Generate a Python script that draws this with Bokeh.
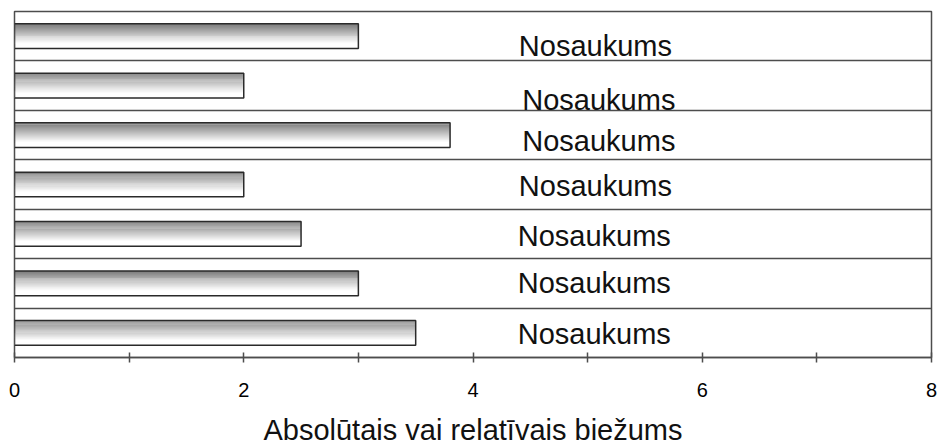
from bokeh.plotting import figure
from bokeh.models import Range1d, FixedTicker, ColumnDataSource
from bokeh.core.properties import value
from bokeh.embed import file_html
from bokeh.resources import INLINE

# ---- data ----
rows = [1, 2, 3, 4, 5, 6, 7]
values = [3.0, 2.0, 3.8, 2.0, 2.5, 3.0, 3.5]
names = ["Nosaukums"] * 7
x_ticks = [0, 2, 4, 6, 8]
x_minor_ticks = [1, 3, 5, 7]
axis_title = "Absolūtais vai relatīvais biežums"

# ---- layout of the name labels (styling) ----
label_x = [4.40, 4.43, 4.43, 4.40, 4.39, 4.39, 4.39]
label_dy = [0.19, 0.30, 0.11, 0.04, 0.05, 0.00, 0.02]

FONT = "Liberation Sans"
DARK = "#4d4d4d"

p = figure(width=940, height=448, output_backend="svg", toolbar_location=None,
           x_range=Range1d(0, 8), y_range=Range1d(7.5, 0.5),
           min_border_left=14, min_border_right=9, min_border_top=11,
           min_border_bottom=91)

p.background_fill_color = "white"
p.border_fill_color = "white"
p.outline_line_color = DARK
p.outline_line_width = 1.5

# gradient bars made of thin slices (dark at top, fading to white)
bar_h = 0.5
N = 24
for k in range(N):
    t = (k + 0.5) / N
    g = int(round(120 + (255 - 120) * min(1.0, t / 0.8)))
    col = "#%02x%02x%02x" % (g, g, g)
    ys = [r - bar_h / 2 + (k + 0.5) * bar_h / N for r in rows]
    p.hbar(y=ys, left=0, right=values, height=bar_h / N * 1.15,
           fill_color=col, line_color=None)

p.hbar(y=rows, left=0, right=values, height=bar_h, fill_color=None,
       line_color="#2a2a2a", line_width=1.5)

# labels
src = ColumnDataSource(dict(x=label_x, y=[r + d for r, d in zip(rows, label_dy)], t=names))
p.text(x="x", y="y", text="t", source=src, text_font=value(FONT),
       text_font_size="29px", text_color="#111111", text_baseline="alphabetic",
       text_align="left")

# grids
p.xgrid.visible = False
p.ygrid.ticker = FixedTicker(ticks=[1.5, 2.5, 3.5, 4.5, 5.5, 6.5])
p.ygrid.grid_line_color = DARK
p.ygrid.grid_line_width = 1.6

# axes
p.yaxis.visible = False
ax = p.xaxis[0]
ax.ticker = FixedTicker(ticks=x_ticks, minor_ticks=x_minor_ticks)
ax.axis_line_color = DARK
ax.axis_line_width = 1.6
ax.major_tick_line_color = DARK
ax.minor_tick_line_color = DARK
ax.major_tick_line_width = 1.5
ax.minor_tick_line_width = 1.5
ax.major_tick_in = 5
ax.major_tick_out = 5
ax.minor_tick_in = 5
ax.minor_tick_out = 5
ax.major_label_text_font = FONT
ax.major_label_text_font_size = "20px"
ax.major_label_text_color = "#000000"
ax.major_label_standoff = 20
ax.axis_label = axis_title
ax.axis_label_text_font = FONT
ax.axis_label_text_font_size = "29px"
ax.axis_label_text_font_style = "normal"
ax.axis_label_text_color = "#111111"
ax.axis_label_standoff = 14

open("out.html", "w").write(file_html(p, INLINE))
